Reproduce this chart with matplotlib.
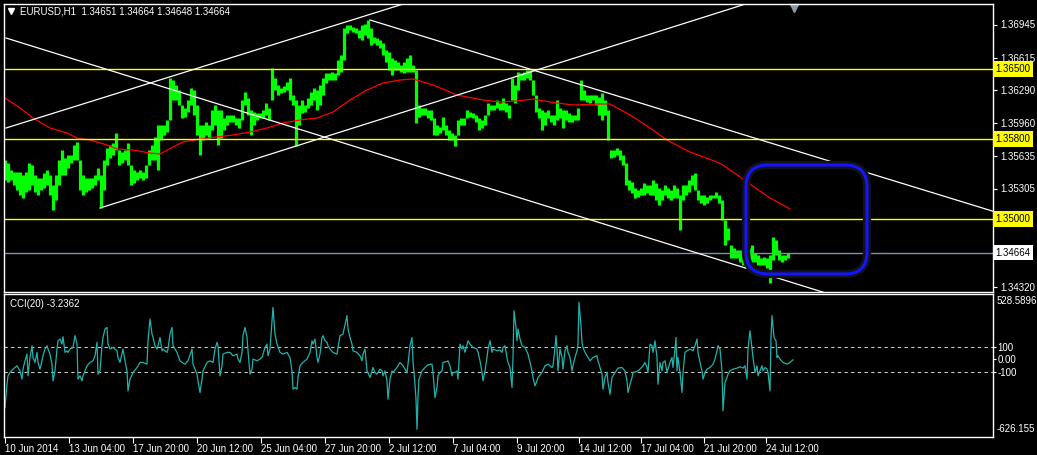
import numpy as np
import matplotlib
matplotlib.use("Agg")
import matplotlib.pyplot as plt
from matplotlib.patches import FancyBboxPatch
from matplotlib import transforms

# EURUSD H1 10 Jun - 24 Jul 2014, one high/low sample every 3 bars
high = [
    1.3559, 1.3556, 1.3549, 1.3547, 1.3547, 1.3547, 1.3544, 1.3547, 1.3556, 1.3554,
    1.3544, 1.3541, 1.3541, 1.3546, 1.3549, 1.3544, 1.3534, 1.3544, 1.3559, 1.3569,
    1.3561, 1.3564, 1.3564, 1.3574, 1.3577, 1.3559, 1.3544, 1.3541, 1.3541, 1.3541,
    1.3544, 1.3551, 1.3544, 1.3559, 1.3571, 1.3574, 1.3576, 1.3586, 1.3569, 1.3567,
    1.3569, 1.3576, 1.3554, 1.3549, 1.3547, 1.3549, 1.3547, 1.3554, 1.3569, 1.3574,
    1.3582, 1.3594, 1.3594, 1.3594, 1.3599, 1.3641, 1.3639, 1.3634, 1.3629, 1.3614,
    1.3611, 1.3619, 1.3631, 1.3629, 1.3614, 1.3594, 1.3594, 1.3597, 1.3594, 1.3609,
    1.3614, 1.3609, 1.3609, 1.3601, 1.3604, 1.3604, 1.3604, 1.3601, 1.3601, 1.3619,
    1.3627, 1.3621, 1.3609, 1.3607, 1.3606, 1.3606, 1.3609, 1.3616, 1.3611, 1.3651,
    1.3641, 1.3634, 1.3631, 1.3633, 1.3637, 1.3641, 1.3624, 1.3619, 1.3614, 1.3619,
    1.3614, 1.3621, 1.3627, 1.3631, 1.3629, 1.3634, 1.3641, 1.3646, 1.3646, 1.3647,
    1.3646, 1.3659, 1.3664, 1.3691, 1.3694, 1.3694, 1.3692, 1.3691, 1.3689, 1.3694,
    1.3695, 1.3699, 1.3691, 1.3682, 1.3681, 1.3679, 1.3676, 1.3669, 1.3667, 1.3661,
    1.3659, 1.3657, 1.3654, 1.3657, 1.3661, 1.3664, 1.3654, 1.3649, 1.3614, 1.3611,
    1.3611, 1.3609, 1.3609, 1.3601, 1.3594, 1.3592, 1.3602, 1.3594, 1.3589, 1.3586,
    1.3584, 1.3599, 1.3601, 1.3601, 1.3609, 1.3607, 1.3606, 1.3604, 1.3601, 1.3599,
    1.3604, 1.3616, 1.3614, 1.3614, 1.3619, 1.3616, 1.3621, 1.3616, 1.3614, 1.3641,
    1.3634, 1.3647, 1.3646, 1.3647, 1.3649, 1.3649, 1.3639, 1.3624, 1.3611, 1.3609,
    1.3607, 1.3609, 1.3604, 1.3604, 1.3619, 1.3611, 1.3609, 1.3609, 1.3606, 1.3604,
    1.3604, 1.3611, 1.3639, 1.3629, 1.3624, 1.3624, 1.3624, 1.3624, 1.3622, 1.3626,
    1.3619, 1.3609, 1.3569, 1.3569, 1.3571, 1.3569, 1.3564, 1.3556, 1.3539, 1.3537,
    1.3531, 1.3529, 1.3531, 1.3536, 1.3534, 1.3534, 1.3539, 1.3536, 1.3531, 1.3529,
    1.3534, 1.3531, 1.3529, 1.3534, 1.3531, 1.3524, 1.3534, 1.3534, 1.3539, 1.3544,
    1.3546, 1.3529, 1.3524, 1.3524, 1.3522, 1.3524, 1.3524, 1.3527, 1.3524, 1.3519,
    1.3499, 1.3491, 1.3474, 1.3471, 1.3469, 1.3469, 1.3469, 1.3474, 1.3471, 1.3474,
    1.3466, 1.3464, 1.3461, 1.3462, 1.3461, 1.3464, 1.3482, 1.3479, 1.3469, 1.3464,
    1.3464, 1.3466,
]
low = [
    1.3539, 1.3537, 1.3539, 1.3534, 1.3529, 1.3524, 1.3521, 1.3527, 1.3529, 1.3534,
    1.3527, 1.3524, 1.3529, 1.3531, 1.3534, 1.3524, 1.3509, 1.3519, 1.3534, 1.3544,
    1.3544, 1.3551, 1.3556, 1.3559, 1.3559, 1.3529, 1.3524, 1.3527, 1.3529, 1.3531,
    1.3534, 1.3539, 1.3511, 1.3529, 1.3554, 1.3561, 1.3564, 1.3569, 1.3554, 1.3556,
    1.3559, 1.3554, 1.3534, 1.3536, 1.3539, 1.3541, 1.3539, 1.3541, 1.3554, 1.3559,
    1.3559, 1.3549, 1.3579, 1.3584, 1.3587, 1.3599, 1.3619, 1.3619, 1.3614, 1.3601,
    1.3602, 1.3607, 1.3614, 1.3604, 1.3584, 1.3564, 1.3579, 1.3584, 1.3581, 1.3589,
    1.3594, 1.3574, 1.3581, 1.3589, 1.3594, 1.3597, 1.3597, 1.3594, 1.3591, 1.3599,
    1.3614, 1.3604, 1.3584, 1.3594, 1.3599, 1.3601, 1.3601, 1.3604, 1.3599, 1.3619,
    1.3629, 1.3624, 1.3626, 1.3627, 1.3629, 1.3619, 1.3614, 1.3573, 1.3594, 1.3606,
    1.3607, 1.3611, 1.3614, 1.3619, 1.3609, 1.3614, 1.3624, 1.3636, 1.3639, 1.3639,
    1.3639, 1.3644, 1.3647, 1.3659, 1.3686, 1.3689, 1.3687, 1.3686, 1.3681, 1.3679,
    1.3684, 1.3681, 1.3674, 1.3676, 1.3674, 1.3671, 1.3664, 1.3657, 1.3649, 1.3644,
    1.3649, 1.3649, 1.3647, 1.3646, 1.3647, 1.3647, 1.3647, 1.3596, 1.3602, 1.3604,
    1.3604, 1.3601, 1.3599, 1.3584, 1.3584, 1.3586, 1.3589, 1.3584, 1.3579, 1.3579,
    1.3573, 1.3584, 1.3594, 1.3594, 1.3601, 1.3602, 1.3601, 1.3597, 1.3589, 1.3591,
    1.3594, 1.3604, 1.3609, 1.3609, 1.3611, 1.3609, 1.3609, 1.3607, 1.3601, 1.3619,
    1.3616, 1.3629, 1.3639, 1.3639, 1.3641, 1.3639, 1.3624, 1.3607, 1.3601, 1.3589,
    1.3594, 1.3601, 1.3597, 1.3594, 1.3599, 1.3601, 1.3591, 1.3599, 1.3597, 1.3597,
    1.3599, 1.3599, 1.3619, 1.3619, 1.3617, 1.3616, 1.3619, 1.3614, 1.3604, 1.3599,
    1.3604, 1.3579, 1.3561, 1.3562, 1.3564, 1.3559, 1.3554, 1.3534, 1.3529, 1.3526,
    1.3521, 1.3522, 1.3524, 1.3524, 1.3526, 1.3524, 1.3524, 1.3519, 1.3514, 1.3519,
    1.3524, 1.3521, 1.3519, 1.3521, 1.3521, 1.3489, 1.3519, 1.3524, 1.3527, 1.3534,
    1.3529, 1.3519, 1.3516, 1.3514, 1.3516, 1.3519, 1.3521, 1.3521, 1.3516, 1.3499,
    1.3474, 1.3479, 1.3461, 1.3461, 1.3461, 1.3457, 1.3454, 1.3451, 1.3457, 1.3457,
    1.3457, 1.3454, 1.3454, 1.3454, 1.3451, 1.3436, 1.3459, 1.3464, 1.3459, 1.3457,
    1.3459, 1.3461,
]
sample_step = 3

# red moving average
ma_bar = [0, 15, 28, 45, 62, 72, 85, 102, 112, 128,
          145, 155, 162, 178, 195, 228, 245, 262, 278, 295,
          312, 328, 345, 362, 378, 395, 408, 428, 452, 478,
          495, 512, 528, 545, 568, 595, 605, 625, 645, 662,
          685, 712, 718, 742, 765, 785]
ma = [1.3621, 1.3611, 1.3601, 1.3591, 1.3586, 1.3581, 1.3579, 1.3574, 1.3570, 1.3569,
      1.3566, 1.3565, 1.3569, 1.3577, 1.3580, 1.3584, 1.3587, 1.3591, 1.3596, 1.3599,
      1.3601, 1.3607, 1.3619, 1.3629, 1.3636, 1.3639, 1.3640, 1.3634, 1.3624, 1.3619,
      1.3617, 1.3618, 1.3620, 1.3617, 1.3614, 1.3615, 1.3615, 1.3604, 1.3591, 1.3579,
      1.3567, 1.3557, 1.3554, 1.3537, 1.3521, 1.3510]

# CCI(20)
cci_bar = [
    0, 2, 3, 5, 8, 12, 15, 17, 18, 20,
    22, 23, 25, 27, 28, 30, 32, 33, 35, 37,
    38, 40, 42, 43, 45, 47, 48, 50, 52, 53,
    55, 57, 58, 60, 62, 63, 65, 68, 70, 72,
    73, 75, 77, 78, 80, 82, 85, 88, 90, 92,
    93, 95, 97, 98, 100, 102, 103, 105, 108, 112,
    113, 115, 118, 120, 122, 123, 125, 128, 132, 135,
    138, 142, 143, 145, 147, 148, 150, 152, 153, 155,
    157, 158, 162, 163, 165, 167, 168, 170, 172, 175,
    177, 180, 183, 187, 188, 192, 193, 195, 197, 198,
    202, 205, 208, 210, 212, 213, 215, 217, 218, 222,
    225, 228, 232, 233, 235, 237, 238, 240, 242, 243,
    245, 247, 248, 252, 255, 257, 258, 260, 262, 263,
    265, 267, 268, 270, 272, 275, 278, 282, 283, 285,
    287, 288, 290, 292, 293, 295, 298, 302, 305, 307,
    308, 310, 312, 313, 315, 317, 318, 320, 322, 323,
    325, 328, 332, 333, 335, 338, 342, 343, 345, 347,
    348, 352, 355, 357, 358, 360, 362, 363, 365, 367,
    368, 370, 372, 375, 377, 378, 380, 382, 383, 385,
    387, 388, 392,
    395, 398, 402, 403, 405, 407, 408, 410, 411, 412,
    413, 414, 417, 420, 423, 427, 428, 430, 432, 433,
    435, 437, 438, 442, 443, 445, 447, 448, 450, 452,
    453, 455, 457, 458, 460, 463, 465, 468, 472, 473,
    475, 477, 478, 480, 482, 483, 485, 487, 488, 492,
    495, 497, 498, 500, 502, 503, 505, 507, 508, 509,
    511, 512, 513, 515, 517, 520, 523, 527, 528, 530,
    532, 533, 537, 540, 543, 547, 548, 550, 551, 552,
    553, 555, 557, 558, 560, 562, 563, 565, 567, 568,
    570, 572, 573, 574, 576, 577, 578, 580, 583, 585,
    588, 592, 593, 595, 597, 598, 600, 602, 603, 605,
    607, 610, 613, 617, 620, 622, 623, 625, 627, 628,
    632, 635, 638, 640, 642, 643, 645, 647, 648, 650,
    652, 653, 655, 657, 658, 660, 662, 663, 665, 667,
    668, 670, 671, 672, 673, 675, 677, 678, 680, 682,
    685, 688, 690, 692, 693, 695, 697, 698, 700, 702,
    705, 708, 710, 712, 713, 715, 717, 718, 720, 722,
    723, 725, 728, 732, 735, 738, 740, 742, 743, 745,
    747, 748, 750, 752, 753, 755, 757, 758, 760, 762,
    763, 765, 766, 767, 769, 771, 772, 773, 775, 778,
    782, 785, 788,
]
cci = [
    -389, -200, -132, -105, -78, -51, -92, -159, -78, -11,
    43, -132, 16, 111, 16, -24, 57, -24, -78, -11,
    30, 84, 111, 84, 43, -38, -173, -92, 84, 151,
    165, 124, 184, 57, 70, 57, 84, 97, 192, 124,
    -159, -132, -173, -132, -92, -51, -24, -11, 30, 138,
    -119, -92, 111, 178, 246, 259, 124, 84, 97, 70,
    16, -24, 84, -11, -92, -254, -159, -105, -65, -24,
    -24, -38, 151, 327, 205, 178, 111, 84, 111, 178,
    70, 84, 57, 84, 205, 259, 111, 84, 57, -11,
    -24, -38, -11, 84, -38, -119, -173, -267, -159, -92,
    -24, -11, -24, 84, 138, 111, -132, -51, 43, 57,
    57, 30, 43, 3, -24, 57, 192, 259, 178, 70,
    -119, -78, 3, -11, 3, 16, 43, 97, 124, 30,
    84, 313, 421, 205, 124, 57, 43, 57, 43, 16,
    -92, -240, -227, -240, -146, -51, -24, 3, 57, 151,
    124, 165, 16, -24, 43, 178, 192, 151, 138, 111,
    84, 57, 43, 97, 192, 205, 354, 246, 178, 124,
    70, 57, 30, -11, 43, 84, -92, -105, -146, -92,
    -65, -105, -119, -78, -92, -132, -92, -173, -321, -159,
    -92, -105, -65,
    -24, -51, -105, -38, 111, 178, -11, -200, -321, -564,
    -308, -159, -92, -65, -43, -38, -105, -308, -227, -132,
    -105, -92, -24, -16, -11, -51, -132, -105, -105, -92,
    -159, 124, 84, 111, 57, 151, 124, 97, 84, 57,
    -11, -105, -173, -92, 16, 84, 151, 57, 84, 70,
    76, 57, 97, 111, 16, -24, -65, -227, 16, 394,
    259, 151, 246, 165, 111, 97, 43, -92, -146, -213,
    -173, -146, -105, -51, -38, -65, -51, 97, 192, 84,
    -92, 84, 16, -78, 70, 111, 57, 16, -92, -51,
    16, 70, 124, 462, 273, 138, 97, 57, 16, -11,
    16, 30, -11, -65, -119, -240, -146, -105, -186, -281,
    -146, -105, -70, -65, -92, -173, -267, -200, -146, -105,
    -97, -78, -51, -24, -65, -105, 124, 111, 57, 151,
    16, -200, -24, -92, -24, -11, -105, -78, -24, 16,
    -65, 84, 178, -92, 16, -105, -267, -105, 57, 70,
    84, 70, 111, 165, 57, -24, -92, -159, -105, -78,
    -65, -38, 3, 70, 111, 84, -92, -416, -186, -146,
    -119, -92, -78, -70, -59, -70, -51, -159, 84, 232,
    84, 16, -105, -51, -132, -92, -51, -92, -65, -78,
    -105, -254, 178, 354, 178, 151, 16, 30, 3, -24,
    -38, -24, -3,
]
cci_range = (-626.155, 528.5896)

time_ticks = [0, 64, 128, 192, 256, 320, 384, 448, 512, 574, 636, 699, 761]
time_labels = ["10 Jun 2014", "13 Jun 04:00", "17 Jun 20:00", "20 Jun 12:00",
               "25 Jun 04:00", "27 Jun 20:00", "2 Jul 12:00", "7 Jul 04:00",
               "9 Jul 20:00", "14 Jul 12:00", "17 Jul 04:00", "21 Jul 20:00",
               "24 Jul 12:00"]
price_ticks = [1.36945, 1.36615, 1.36290, 1.35960, 1.35635, 1.35305, 1.34320]
levels = [1.36500, 1.35800, 1.35000]
bid = 1.34664

# trend lines (rays): two anchors each, (bar, price)
trend_lines = [
    ((1, 1.3591), (395, 1.3714)),
    ((95, 1.3511), (595, 1.3669)),
    ((1, 1.3681), (795, 1.3434)),
    ((365, 1.3699), (795, 1.3567)),
]
box_bars = [741, 862]
box_prices = [1.3445, 1.3554]

W, H = 1037, 455
plt.rcParams['font.family'] = ['Liberation Sans', 'DejaVu Sans']
fig = plt.figure(figsize=(W / 100, H / 100), dpi=100, facecolor='black')
ax = fig.add_axes([4 / W, 1 - 292 / H, 989 / W, 288 / H])
ax2 = fig.add_axes([4 / W, 1 - 437 / H, 989 / W, 143 / H])
xmax = 988
for a in (ax, ax2):
    a.set_facecolor('black')
    for s in a.spines.values():
        s.set_color('white')
        s.set_linewidth(1)
    a.set_xlim(-1, xmax)

# price panel
ax.set_ylim(1.3427, 1.3715)
bars = np.arange(len(high)) * sample_step
ax.vlines(bars, low, high, color='#00ff00', lw=2.3)
ax.plot(ma_bar, ma, color='#ff0000', lw=0.9)
for lv in levels:
    ax.axhline(lv, color='#ffff00', lw=1)
ax.axhline(bid, color='#8090a8', lw=1)
for (b1, p1), (b2, p2) in trend_lines:
    slope = (p2 - p1) / (b2 - b1)
    ax.plot([b1, xmax], [p1, p1 + slope * (xmax - b1)], color='white', lw=0.9)

ax.set_xticks([])
ax.yaxis.tick_right()
ax.set_yticks(price_ticks)
ax.set_yticklabels([f"{p:.5f}" for p in price_ticks])
ax.tick_params(axis='y', colors='white', length=3, width=0.8, labelsize=7, pad=2)

blend = transforms.blended_transform_factory(ax.transAxes, ax.transData)
for lv in levels:
    ax.text(1.0025, lv, f"{lv:.5f}", transform=blend, ha='left', va='center',
            fontsize=7, color='black', clip_on=False,
            bbox=dict(boxstyle='square,pad=0.28', fc='#ffff00', ec='none'))
ax.text(1.0025, bid, f"{bid:.5f}", transform=blend, ha='left', va='center',
        fontsize=7, color='black', clip_on=False,
        bbox=dict(boxstyle='square,pad=0.28', fc='white', ec='none'))

ax.text(0.016, 0.975, "EURUSD,H1  1.34651 1.34664 1.34648 1.34664",
        transform=ax.transAxes, ha='left', va='center', fontsize=7, color='white')
ax.plot([0.007], [0.975], transform=ax.transAxes, marker='v', ms=4,
        color='white', clip_on=False)
ax.plot([789], [0.985], transform=transforms.blended_transform_factory(ax.transData, ax.transAxes),
        marker='v', ms=6, color='#8a9aaa', clip_on=False)

# rounded highlight box (drawn in inches so the corners stay round)
corners = ax.transData.transform([[box_bars[0], box_prices[0]], [box_bars[1], box_prices[1]]])
corners = corners / fig.dpi
(x0, y0), (x1, y1) = corners
for ec, lw in (('#121218', 6), ('#1414ff', 2.2)):
    box = FancyBboxPatch((x0, y0), x1 - x0, y1 - y0,
                         boxstyle="round,pad=0,rounding_size=0.22",
                         transform=fig.dpi_scale_trans, fc='none', ec=ec, lw=lw)
    fig.patches.append(box)

# CCI panel
ax2.set_ylim(*cci_range)
ax2.axhline(100, color='#c8c8c8', lw=0.8, ls=(0, (3, 3)))
ax2.axhline(-100, color='#c8c8c8', lw=0.8, ls=(0, (3, 3)))
ax2.plot(cci_bar, cci, color='#20b2aa', lw=0.9)
ax2.text(0.006, 0.93, "CCI(20) -3.2362", transform=ax2.transAxes,
         ha='left', va='center', fontsize=7, color='white')

ax2.yaxis.tick_right()
ax2.set_yticks([100, 0, -100])
ax2.set_yticklabels(["100", "0.00", "-100"])
ax2.tick_params(axis='y', colors='white', length=2, width=0.8, labelsize=7, pad=1)
ax2.text(1.004, 0.985, f"{cci_range[1]:.4f}", transform=ax2.transAxes,
         ha='left', va='top', fontsize=7, color='white')
ax2.text(1.004, 0.02, f"{cci_range[0]:.3f}", transform=ax2.transAxes,
         ha='left', va='bottom', fontsize=7, color='white')

ax2.set_xticks(time_ticks)
ax2.set_xticklabels(time_labels, ha='left')
ax2.tick_params(axis='x', colors='white', length=4, width=0.8, labelsize=7, pad=1)

fig.savefig("out.png", dpi=100, facecolor='black')
